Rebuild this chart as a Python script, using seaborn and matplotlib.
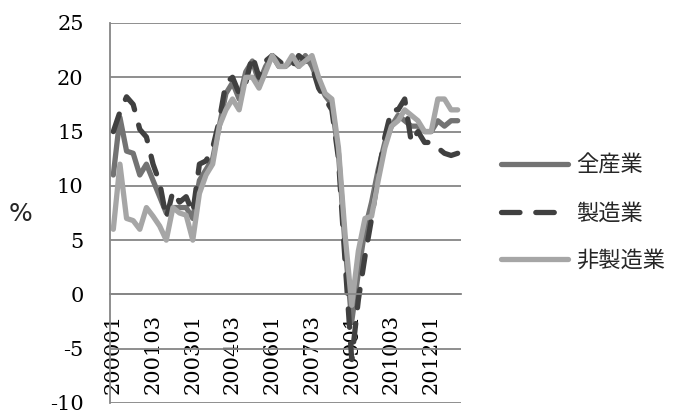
import matplotlib
matplotlib.use("Agg")
import matplotlib.pyplot as plt
import seaborn as sns
import pandas as pd


# Quarterly series, 2000Q1 .. 2013Q1 (53 quarters)
zensangyo = [11, 16.3, 13.2, 13, 11, 12, 10.5, 9, 7.5, 8, 8, 8, 7, 10.5, 11.5, 12.5,
             15.5, 18.5, 19.5, 18, 20.5, 21.5, 19.5, 21, 22, 21, 21, 21.5, 21, 22, 21, 19.5,
             18.3, 17.5, 13, 4.5, -2.5, 2, 6, 8.5, 11.5, 14, 15.5, 16.5, 16, 15.5, 15.5, 15,
             15, 16, 15.5, 16, 16]
seizo = [15, 16.8, 18.2, 17.5, 15.2, 14.5, 12, 10.3, 7, 9.5, 8.5, 9, 7.5, 12, 12.3, 13.5,
         16, 19.5, 20, 18.5, 19.5, 22, 20, 21.5, 22, 21.5, 21, 21, 22, 21.5, 21, 19,
         18, 17, 12.5, 3, -6, -0.5, 3.5, 7, 11, 14.5, 17, 17, 18, 14, 15, 14,
         14, 13.5, 13, 12.8, 13]
hiseizo = [6, 12, 7, 6.8, 6, 8, 7.2, 6.3, 5, 8, 7.5, 7.3, 5, 9.3, 11, 12,
           15.5, 17, 18, 17, 20, 20, 19, 20.5, 22, 21, 21, 22, 21, 21.5, 22, 20,
           18.5, 18, 13.5, 5.5, -1, 4, 7, 7.2, 10.5, 13.5, 15.5, 16, 17, 16.5, 16, 15,
           15, 18, 18, 17, 17]

series_names = ["全産業", "製造業", "非製造業"]
tick_pos = [0, 6, 12, 18, 24, 30, 36, 42, 48]
tick_labels = ["200001", "200103", "200301", "200403", "200601",
               "200703", "200901", "201003", "201201"]

frames = []
for name, vals in zip(series_names, [zensangyo, seizo, hiseizo]):
    frames.append(pd.DataFrame({"q": range(len(vals)), "value": vals, "series": name}))
df = pd.concat(frames, ignore_index=True)

sns.set_style("white")
plt.rcParams["font.family"] = ["Noto Sans CJK JP", "DejaVu Sans"]
plt.rcParams["axes.unicode_minus"] = False
plt.rcParams["lines.solid_capstyle"] = "round"
plt.rcParams["lines.dash_capstyle"] = "round"
plt.rcParams["lines.solid_joinstyle"] = "round"
plt.rcParams["lines.dash_joinstyle"] = "round"

palette = {"全産業": "#737373", "製造業": "#404040", "非製造業": "#a6a6a6"}
dashes = {"全産業": "", "製造業": (3.5, 3), "非製造業": ""}

fig = plt.figure(figsize=(6.86, 4.13), dpi=100)
ax = fig.add_axes([110 / 686, 10 / 413, 351 / 686, 380 / 413])

sns.lineplot(data=df, x="q", y="value", hue="series", style="series",
             hue_order=series_names, style_order=series_names,
             palette=palette, dashes=dashes, linewidth=3.8, ax=ax)

ax.set_xlim(-0.5, 52.5)
ax.set_ylim(-10, 25)
ax.set_yticks(range(-10, 30, 5))
ax.set_xticks(tick_pos)
ax.set_xticklabels(tick_labels)
ax.tick_params(axis="x", length=0, pad=14, labelrotation=90, labelsize=15,
               labelfontfamily="DejaVu Serif", labelcolor="black")
ax.tick_params(axis="y", length=0, pad=19, labelsize=15,
               labelfontfamily="DejaVu Serif", labelcolor="black")
ax.set_xlabel("")
ax.set_ylabel("")

ax.yaxis.grid(True, color="#868686", linewidth=1.3)
ax.xaxis.grid(False)
ax.set_axisbelow(True)
for s in ["top", "right"]:
    ax.spines[s].set_visible(False)
ax.spines["left"].set_color("#868686")
ax.spines["left"].set_linewidth(1.3)
ax.spines["bottom"].set_position(("data", 0))
ax.spines["bottom"].set_color("#868686")
ax.spines["bottom"].set_linewidth(1.3)

handles, labels = ax.get_legend_handles_labels()
ax.legend(handles, labels, loc="center left", bbox_to_anchor=(501 / 686, 1 - 213 / 413),
          bbox_transform=fig.transFigure, frameon=False, fontsize=16,
          handlelength=3.0, handletextpad=0.4, labelspacing=1.1,
          borderpad=0, borderaxespad=0)

fig.text(21 / 686, 1 - 214 / 413, "%", fontsize=18, ha="center", va="center",
         family="DejaVu Sans")

fig.savefig("out.png", dpi=100)
